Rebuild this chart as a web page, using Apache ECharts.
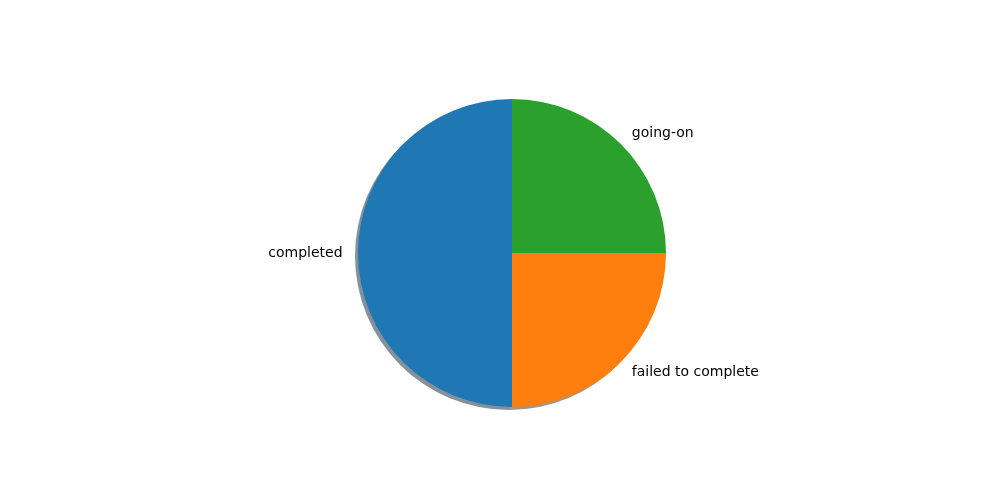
<!DOCTYPE html>
<html>
<head>
<meta charset="utf-8">
<script src="https://cdn.jsdelivr.net/npm/echarts@6/dist/echarts.min.js"></script>
<style>html,body{margin:0;padding:0;background:#fff}#c{width:1000px;height:500px}</style>
</head>
<body>
<div id="c"></div>
<script>
const categories = ['completed', 'failed to complete', 'going-on'];
const values = [50, 25, 25];
const colors = ['#1f77b4', '#ff7f0e', '#2ca02c'];
const shadowColors = ['rgba(9,36,54,0.5)', 'rgba(77,38,4,0.5)', 'rgba(13,48,13,0.5)'];

const chart = echarts.init(document.getElementById('c'));
const R = 154;
chart.setOption({
  backgroundColor: '#ffffff',
  animation: false,
  series: [
    {
      type: 'pie',
      silent: true,
      center: [509, 256],
      radius: [0, R],
      startAngle: 90,
      clockwise: false,
      avoidLabelOverlap: false,
      label: { show: false },
      labelLine: { show: false },
      itemStyle: { borderWidth: 0 },
      data: categories.map((c, i) => ({ name: c, value: values[i], itemStyle: { color: shadowColors[i] } })),
      z: 1
    },
    {
      type: 'pie',
      center: [512, 253],
      radius: [0, R],
      startAngle: 90,
      clockwise: false,
      avoidLabelOverlap: false,
      itemStyle: { borderWidth: 0 },
      label: {
        show: true,
        position: 'outside',
        color: '#000',
        fontFamily: 'DejaVu Sans',
        fontSize: 14,
        distanceToLabelLine: 0,
        alignTo: 'none'
      },
      labelLine: { show: false, length: R * 0.1, length2: 0 },
      data: categories.map((c, i) => ({ name: c, value: values[i], itemStyle: { color: colors[i] } })),
      z: 2
    }
  ]
});
</script>
</body>
</html>
